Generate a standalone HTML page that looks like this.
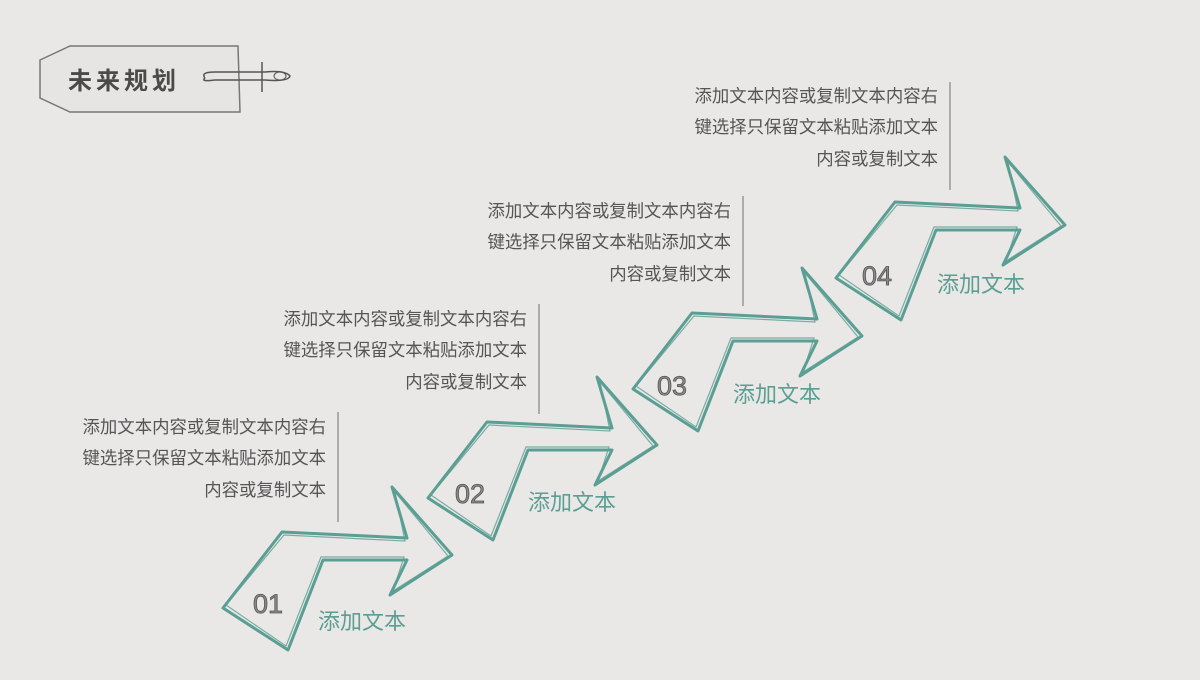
<!DOCTYPE html>
<html><head><meta charset="utf-8"><style>
body{margin:0;background:#e9e8e6;}
svg{display:block}
text{font-family:"Liberation Sans","Noto Sans CJK SC",sans-serif;}
</style></head><body>
<svg width="1200" height="680" viewBox="0 0 1200 680">
<rect width="1200" height="680" fill="#e9e8e6"/>
<path d="M40,60 L70,46 L238,46 L240,112 L70,112 L40,98 Z" fill="#e6e5e3" stroke="#777" stroke-width="1.5"/>
<text x="68" y="89" font-size="24" font-weight="bold" fill="#4a4a4a" letter-spacing="4">未来规划</text>
<path d="M205,78 Q200,72 215,72 L265,72 Q285,70 290,76 Q288,82 265,80 L215,80 Q200,82 205,78" fill="none" stroke="#555" stroke-width="1.5"/>
<line x1="262" y1="62" x2="262" y2="92" stroke="#555" stroke-width="1.5"/>
<ellipse cx="280" cy="76" rx="6" ry="4" fill="none" stroke="#555"/>
<defs>
<g id="arr">
<path d="M223,608 L282,532 L407,538 L392,487 L452,555 L390,595 L407,560 L323,560 L288,650 Z" fill="none" stroke="#5b9e93" stroke-width="3" stroke-linejoin="round"/>
<path d="M226,605 L284,535 L405,541 L395,492 L448,556 L393,591 L404,557 L321,557 L286,646 Z" fill="none" stroke="#5b9e93" stroke-width="1.2" opacity="0.8"/>
</g>
</defs>
<use href="#arr"/>
<use href="#arr" transform="translate(205,-110)"/>
<use href="#arr" transform="translate(410,-219)"/>
<use href="#arr" transform="translate(613,-330)"/>
<g font-size="27" fill="#8a8a8a" stroke="#555" stroke-width="0.8">
<text x="253" y="613">01</text>
<text x="455" y="503">02</text>
<text x="657" y="395">03</text>
<text x="862" y="285">04</text>
</g>
<g font-size="22" fill="#5b9e93">
<text x="318" y="629">添加文本</text>
<text x="528" y="510">添加文本</text>
<text x="733" y="402">添加文本</text>
<text x="937" y="292">添加文本</text>
</g>
<g font-size="17.4" fill="#555" text-anchor="end">
<text x="326" y="433">添加文本内容或复制文本内容右</text>
<text x="326" y="464">键选择只保留文本粘贴添加文本</text>
<text x="326" y="496">内容或复制文本</text>
<text x="527" y="325">添加文本内容或复制文本内容右</text>
<text x="527" y="356">键选择只保留文本粘贴添加文本</text>
<text x="527" y="388">内容或复制文本</text>
<text x="731" y="217">添加文本内容或复制文本内容右</text>
<text x="731" y="248">键选择只保留文本粘贴添加文本</text>
<text x="731" y="280">内容或复制文本</text>
<text x="938" y="102">添加文本内容或复制文本内容右</text>
<text x="938" y="133">键选择只保留文本粘贴添加文本</text>
<text x="938" y="165">内容或复制文本</text>
</g>
<g stroke="#999" stroke-width="1.5">
<line x1="338" y1="412" x2="338" y2="522"/>
<line x1="539" y1="304" x2="539" y2="414"/>
<line x1="743" y1="196" x2="743" y2="306"/>
<line x1="950" y1="82" x2="950" y2="190"/>
</g>
</svg>
</body></html>
